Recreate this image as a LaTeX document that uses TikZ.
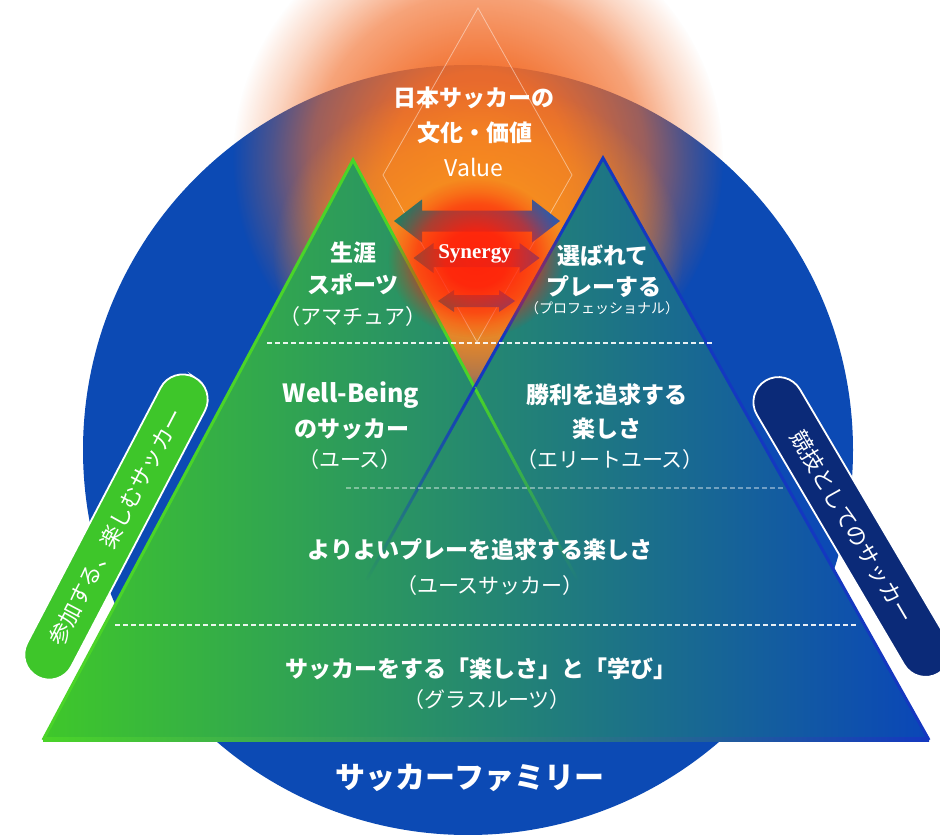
\documentclass[tikz,border=0pt]{standalone}
\usepackage{fontspec}
\setmainfont{Noto Sans CJK JP}
\newfontfamily\synfont{Liberation Serif}
\usetikzlibrary{fadings}
\definecolor{cblue}{HTML}{0C4AB4}
\definecolor{tgreen}{HTML}{3FC82A}
\definecolor{tblue}{HTML}{0A46B8}
\definecolor{edgegreen}{HTML}{4AD428}
\definecolor{edgeblue}{HTML}{1438C0}
\definecolor{glowA}{HTML}{F26C28}
\definecolor{glowB}{HTML}{F7901E}
\definecolor{glowR}{HTML}{FF1E0A}
\definecolor{arrL}{HTML}{2A7A5C}
\definecolor{arrR}{HTML}{3656A8}
\definecolor{pillG}{HTML}{3EC62A}
\definecolor{pillB}{HTML}{0B2A78}
\pgfdeclareradialshading{glowsh}{\pgfpointorigin}{color(0bp)=(white); color(9bp)=(white!95!black); color(17bp)=(white!62!black); color(21bp)=(white!28!black); color(25bp)=(black); color(50bp)=(black)}
\pgfdeclarefading{glowfade}{\pgfuseshading{glowsh}}
\tikzfading[name=fadedown, top color=transparent!0, bottom color=transparent!100]
\newcommand\dblarr[6]{\shade[dblarrow] ({#1-#3},#2) -- ({#1-#3+#6},{#2-#5}) -- ({#1-#3+#6},{#2-#4}) -- ({#1+#3-#6},{#2-#4}) -- ({#1+#3-#6},{#2-#5}) -- ({#1+#3},#2) -- ({#1+#3-#6},{#2+#5}) -- ({#1+#3-#6},{#2+#4}) -- ({#1-#3+#6},{#2+#4}) -- ({#1-#3+#6},{#2+#5}) -- cycle;}
\begin{document}
\begin{tikzpicture}[x=1pt,y=-1pt,
  lab/.style={text=white, inner sep=0pt, font=\fontsize{23}{26}\selectfont\bfseries},
  sub/.style={text=white, inner sep=0pt, font=\fontsize{21}{24}\selectfont},
  dashline/.style={white, line width=1.3pt, dash pattern=on 5pt off 3pt},
  pill/.style={draw=white, line width=1.8pt, rounded corners=25pt, minimum width=338pt, minimum height=50pt, inner sep=0pt, text=white, font=\fontsize{22}{24}\selectfont},
  dblarrow/.style={left color=arrL, right color=arrR}
]
\useasboundingbox[fill=white] (0,0) rectangle (940,835);
% family circle
\fill[cblue] (468,450) circle (385);
% glows
\fill[glowA, path fading=glowfade] (478,160) ellipse (245 and 245);
\fill[glowB, path fading=glowfade] (478,255) ellipse (205 and 175);
% diamond
\draw[white, opacity=0.45, line width=0.8pt] (478,8) -- (572,175) -- (477,342) -- (383,175) -- cycle;
% triangles
\coordinate (LA) at (353,160);
\coordinate (LB) at (43,740);
\coordinate (RA) at (603,158);
\coordinate (RB) at (929,740);
\coordinate (X) at (474.5,387.4);
\shade[left color=tgreen, right color=tblue] (LB) -- (LA) -- (X) -- (RA) -- (RB) -- cycle;
\shade[left color=edgegreen, right color=edgeblue] (43,737) rectangle (929,741);
\draw[edgegreen, line width=3pt, line join=miter] (X) -- (LA) -- (LB);
\draw[edgeblue, line width=3pt, line join=miter] (X) -- (RA) -- (RB);
\draw[edgegreen, line width=3pt, path fading=fadedown] (X) -- (577.5,580);
\draw[edgeblue, line width=3pt, path fading=fadedown] (X) -- (366.6,580);
% arrows
\dblarr{477}{221}{83}{10.5}{21.5}{28}
\dblarr{476.5}{258}{63}{9}{15}{20}
\dblarr{476.5}{301}{38.5}{6}{11}{16}
% red glow
\fill[glowR, fill opacity=0.95, path fading=glowfade] (476,258) ellipse (88 and 80);
% dashed lines
\draw[dashline, opacity=0.9] (267,343) -- (712,343);
\draw[dashline, opacity=0.4] (346,488) -- (785,488);
\draw[dashline, opacity=0.9] (115,625) -- (857,625);
% texts
\node[lab] (v1) at (474,98) {日本サッカーの};
\node[lab] (v2) at (475,133) {文化・価値};
\node[sub, font=\fontsize{23}{26}\selectfont] (v3) at (474,167) {Value};
\node[text=white, inner sep=0pt, font=\synfont\bfseries\fontsize{21}{24}\selectfont] (syn) at (475,254) {Synergy};
\node[lab] (a1) at (353,253) {生涯};
\node[lab] (a2) at (353,284) {スポーツ};
\node[sub] (a3) at (353,317) {（アマチュア）};
\node[lab] (p1) at (603,256) {選ばれて};
\node[lab] (p2) at (604,287) {プレーする};
\node[sub, font=\fontsize{14}{16}\selectfont] (p3) at (602,308) {（プロフェッショナル）};
\node[lab, font=\fontsize{25}{28}\selectfont\bfseries] (w1) at (351,395) {Well-Being};
\node[lab] (w2) at (352,429) {のサッカー};
\node[sub] (w3) at (350,460) {（ユース）};
\node[lab] (e1) at (607,395) {勝利を追求する};
\node[lab] (e2) at (607,429) {楽しさ};
\node[sub] (e3) at (610,460) {（エリートユース）};
\node[lab] (y1) at (480,550) {よりよいプレーを追求する楽しさ};
\node[sub] (y2) at (490,586) {（ユースサッカー）};
\node[lab] (g1) at (481,669) {サッカーをする「楽しさ」と「学び」};
\node[sub] (g2) at (487,700) {（グラスルーツ）};
\node[lab, font=\fontsize{30}{34}\selectfont\bfseries] (fam) at (470,778) {サッカーファミリー};
% side pills
\node[pill, fill=pillG, rotate=62.4] (pillL) at (116,527) {参加する、楽しむサッカー};
\node[pill, fill=pillB, rotate=-59.5, minimum width=340pt] (pillR) at (852,527) {競技としてのサッカー};
\end{tikzpicture}
\end{document}
